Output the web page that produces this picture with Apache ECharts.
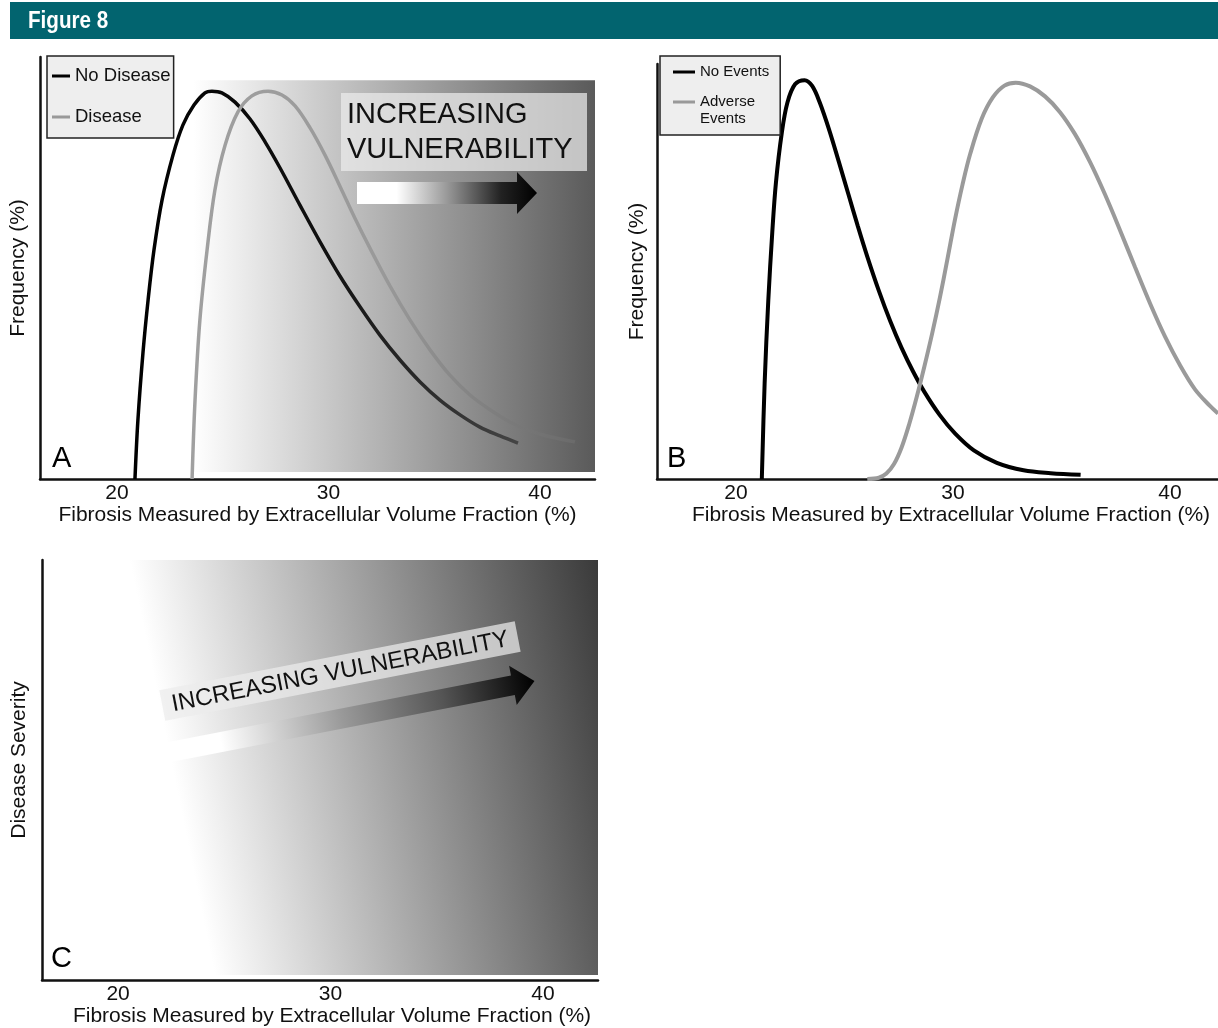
<!DOCTYPE html>
<html><head><meta charset="utf-8">
<script src="https://cdn.jsdelivr.net/npm/echarts@6/dist/echarts.min.js"></script>
<style>html,body{margin:0;padding:0;background:#fff;}#c{width:1218px;height:1028px;}</style>
</head><body><div id="c"></div>
<script>
// ---------- data ----------
const xTickLabels = [20, 30, 40];
const xTitle = 'Fibrosis Measured by Extracellular Volume Fraction (%)';
// Panel A
const noDiseaseX = [20.85, 20.99, 21.23, 21.47, 21.75, 22.13, 22.65, 23.12, 23.64, 24.16, 24.49, 24.96, 25.58, 26.29, 27.0, 27.71, 28.65, 29.6, 30.54, 31.49, 32.43, 33.38, 34.33, 35.27, 36.22, 37.16, 38.11, 38.96];
const noDiseaseY = [0, 14.0, 30.0, 42.4, 54.3, 66.1, 76.8, 83.9, 88.6, 91.5, 91.9, 91.5, 89.3, 85.3, 79.9, 73.7, 64.9, 56.2, 48.1, 40.8, 34.1, 28.2, 23.0, 18.7, 15.2, 12.3, 10.2, 8.5];
const diseaseX = [23.55, 23.69, 23.92, 24.26, 24.63, 25.11, 25.72, 26.38, 27.14, 27.8, 28.42, 29.13, 29.83, 30.54, 31.25, 31.96, 32.91, 33.85, 34.8, 35.74, 36.69, 37.64, 38.58, 39.53, 40.47, 41.65];
const diseaseY = [0, 18.7, 37.7, 54.3, 68.5, 79.1, 87.0, 90.8, 91.9, 91.0, 88.4, 83.2, 76.8, 69.4, 61.8, 54.7, 45.7, 37.7, 30.6, 24.6, 19.9, 16.4, 13.5, 11.4, 10.0, 8.8];
// Panel B
const noEventsX = [21.19, 21.32, 21.49, 21.67, 21.84, 22.11, 22.37, 22.72, 23.16, 23.51, 23.86, 24.3, 24.74, 25.18, 25.61, 26.05, 26.58, 27.11, 27.63, 28.16, 28.68, 29.39, 30.09, 30.96, 32.02, 33.25, 34.5, 35.88];
const noEventsY = [0, 23.1, 43.2, 59.3, 71.4, 83.4, 90.7, 95.1, 96.1, 94.7, 90.7, 84.0, 76.4, 68.6, 61.0, 53.6, 45.4, 38.0, 31.6, 25.9, 21.0, 15.4, 11.0, 6.9, 3.9, 2.1, 1.4, 1.0];
const adverseX = [26.05, 26.58, 26.93, 27.28, 27.63, 27.98, 28.33, 28.68, 29.04, 29.39, 29.74, 30.09, 30.44, 30.79, 31.32, 31.84, 32.37, 32.89, 33.55, 34.24, 34.93, 35.62, 36.31, 37.0, 37.7, 38.39, 39.08, 39.77, 40.46, 41.15, 41.84, 42.21];
const adverseY = [0, 0.3, 1.3, 3.6, 7.6, 13.2, 19.8, 27.1, 35.1, 43.6, 52.9, 62.5, 71.0, 78.3, 86.8, 92.0, 94.8, 95.5, 94.6, 92.2, 88.4, 83.1, 76.4, 68.6, 59.9, 51.0, 42.3, 34.3, 27.4, 21.6, 17.6, 15.8];

// ---------- helpers ----------
const FONT = '"Liberation Sans", Arial, Helvetica, sans-serif';
function pairs(xs, ys) { return xs.map((x, i) => [x, ys[i]]); }
function grad(x, y, x2, y2, stops) {
  return { type: 'linear', x, y, x2, y2, colorStops: stops.map(s => ({ offset: s[0], color: s[1] })) };
}
function hgrad(stops) { return grad(0, 0, 1, 0, stops); }

function xAxisDef(gridIndex, min, max, namePad) {
  return {
    type: 'value', gridIndex, min, max,
    axisLine: { show: true, onZero: false, lineStyle: { color: '#111', width: 2.5 } },
    axisTick: { show: false },
    splitLine: { show: false },
    axisLabel: { customValues: xTickLabels, margin: 4, fontSize: 21, color: '#111', fontFamily: FONT },
    name: xTitle, nameLocation: 'middle', nameGap: 26,
    nameTextStyle: { fontSize: 21, color: '#111', fontFamily: FONT, padding: namePad }
  };
}
function yAxisDef(gridIndex, name, gap, namePad) {
  return {
    type: 'value', gridIndex, min: 0, max: 100,
    axisLine: { show: true, onZero: false, lineStyle: { color: '#111', width: 2.5 } },
    axisTick: { show: false }, axisLabel: { show: false }, splitLine: { show: false },
    name, nameLocation: 'middle', nameGap: gap,
    nameTextStyle: { fontSize: 21, color: '#111', fontFamily: FONT, padding: namePad }
  };
}

const chart = echarts.init(document.getElementById('c'), null, { renderer: 'canvas' });

const SMOOTH = 0.35;
const option = {
  backgroundColor: '#fff',
  animation: false,
  grid: [
    { left: 40, top: 57, width: 555, height: 422 },
    { left: 657, top: 64, width: 561, height: 415 },
    { left: 42, top: 560, width: 556, height: 420 }
  ],
  xAxis: [
    xAxisDef(0, 16.36, 42.6, [0, 0, 0, 0]),
    xAxisDef(1, 16.36, 42.21, [0, 0, 0, 27]),
    xAxisDef(2, 16.42, 42.59, [0, 0, 0, 24])
  ],
  yAxis: [
    yAxisDef(0, 'Frequency (%)', 11, [0, 0, 0, 0]),
    yAxisDef(1, 'Frequency (%)', 9, [0, 0, 0, 0]),
    yAxisDef(2, 'Disease Severity', 12, [0, 0, 0, 20])
  ],
  legend: [
    {
      left: 47, top: 56, orient: 'vertical', selectedMode: false,
      padding: [10, 3, 11, 5], itemGap: 21, itemWidth: 18, itemHeight: 3, icon: 'rect',
      backgroundColor: '#eeeeee', borderColor: '#222', borderWidth: 1.5,
      textStyle: { fontSize: 18.5, lineHeight: 20, color: '#111', fontFamily: FONT },
      data: [
        { name: 'No Disease', itemStyle: { color: '#000' } },
        { name: 'Disease', itemStyle: { color: '#999' } }
      ]
    },
    {
      left: 660, top: 56, orient: 'vertical', selectedMode: false,
      padding: [7.5, 11, 7.5, 13], itemGap: -4, itemWidth: 22, itemHeight: 3, icon: 'rect',
      backgroundColor: '#eeeeee', borderColor: '#222', borderWidth: 1.5,
      textStyle: { fontSize: 15, lineHeight: 17, color: '#111', fontFamily: FONT },
      formatter: n => n === 'Adverse Events' ? ' \nAdverse\nEvents' : n,
      data: [
        { name: 'No Events', itemStyle: { color: '#000' } },
        { name: 'Adverse Events', itemStyle: { color: '#999' } }
      ]
    }
  ],
  series: [
    {
      type: 'line', name: 'bgA', xAxisIndex: 0, yAxisIndex: 0, data: [], silent: true, z: 1,
      markArea: {
        silent: true, label: { show: false },
        itemStyle: { opacity: 1, borderWidth: 0, color: hgrad([[0, '#ffffff'], [0.16, '#ffffff'], [1, '#5a5a5a']]) },
        data: [[{ xAxis: 20, yAxis: 1.66 }, { xAxis: 42.6, yAxis: 94.5 }]]
      }
    },
    {
      type: 'line', name: 'No Disease', xAxisIndex: 0, yAxisIndex: 0, z: 3, silent: true,
      data: pairs(noDiseaseX, noDiseaseY), smooth: SMOOTH, symbol: 'none',
      lineStyle: { width: 3.5, color: hgrad([[0, '#000'], [0.5, '#111'], [1, '#454545']]) }
    },
    {
      type: 'line', name: 'Disease', xAxisIndex: 0, yAxisIndex: 0, z: 3, silent: true,
      data: pairs(diseaseX, diseaseY), smooth: SMOOTH, symbol: 'none',
      lineStyle: { width: 3.5, color: hgrad([[0, '#a0a0a0'], [0.5, '#999'], [1, '#6a6a6a']]) }
    },
    {
      type: 'line', name: 'No Events', xAxisIndex: 1, yAxisIndex: 1, z: 3, silent: true,
      data: pairs(noEventsX, noEventsY), smooth: SMOOTH, symbol: 'none',
      lineStyle: { width: 4, color: '#000' }
    },
    {
      type: 'line', name: 'Adverse Events', xAxisIndex: 1, yAxisIndex: 1, z: 3, silent: true,
      data: pairs(adverseX, adverseY), smooth: SMOOTH, symbol: 'none',
      lineStyle: { width: 4, color: '#9a9a9a' }
    },
    {
      type: 'line', name: 'bgC', xAxisIndex: 2, yAxisIndex: 2, data: [], silent: true, z: 1,
      markArea: {
        silent: true, label: { show: false },
        itemStyle: { opacity: 1, borderWidth: 0, color: grad(0.132, 0.499, 1.049, 0.277, [[0, '#ffffff'], [1, '#3a3a3a']]) },
        data: [[{ xAxis: 19.5, yAxis: 1.2 }, { xAxis: 42.59, yAxis: 100 }]]
      }
    }
  ],
  graphic: [
    { type: 'rect', shape: { x: 10, y: 2, width: 1208, height: 37 }, style: { fill: '#02646f' }, z: 50 },
    { type: 'text', z: 51, x: 28, y: 21, scaleX: 0.86, style: { text: 'Figure 8', x: 0, y: 0, verticalAlign: 'middle', fill: '#fff',
      fontSize: 24, fontWeight: 'bold', fontFamily: FONT } },
    // Panel A annotation
    { type: 'rect', z: 50, shape: { x: 341, y: 93, width: 246, height: 78 }, style: { fill: 'rgba(236,236,236,0.72)' } },
    { type: 'text', z: 51, style: { text: 'INCREASING\nVULNERABILITY', x: 347, y: 97.5, verticalAlign: 'top',
      fill: '#111', fontSize: 29, lineHeight: 35, fontFamily: FONT } },
    { type: 'polygon', z: 51, shape: { points: [[357, 182], [517, 182], [517, 172], [537, 193], [517, 214], [517, 204], [357, 204]] },
      style: { fill: hgrad([[0, '#ffffff'], [0.22, '#ffffff'], [0.5, '#999999'], [0.8, '#222222'], [1, '#000000']]) } },
    // Panel C annotation
    {
      type: 'group', z: 51, x: 340, y: 671, rotation: 0.192,
      children: [
        { type: 'rect', z: 51, shape: { x: -181, y: -15.5, width: 362, height: 31 }, style: { fill: 'rgba(236,236,236,0.72)' } },
        { type: 'text', z: 52, style: { text: 'INCREASING VULNERABILITY', x: 0, y: 1, align: 'center', verticalAlign: 'middle',
          fill: '#111', fontSize: 24, fontFamily: FONT } },
        { type: 'polygon', z: 52, shape: { points: [[-187, 37], [167, 37], [167, 27], [189, 47], [167, 67], [167, 57], [-187, 57]] },
          style: { fill: hgrad([[0, '#ffffff'], [0.15, '#ffffff'], [0.48, '#999999'], [0.75, '#555555'], [0.95, '#111111'], [1, '#000000']]) } }
      ]
    },
    // panel letters
    { type: 'text', z: 51, style: { text: 'A', x: 52, y: 459, verticalAlign: 'middle', fill: '#000', fontSize: 29, fontFamily: FONT } },
    { type: 'text', z: 51, style: { text: 'B', x: 667, y: 459, verticalAlign: 'middle', fill: '#000', fontSize: 29, fontFamily: FONT } },
    { type: 'text', z: 51, style: { text: 'C', x: 51, y: 959, verticalAlign: 'middle', fill: '#000', fontSize: 29, fontFamily: FONT } }
  ]
};
chart.setOption(option);
</script>
</body></html>
